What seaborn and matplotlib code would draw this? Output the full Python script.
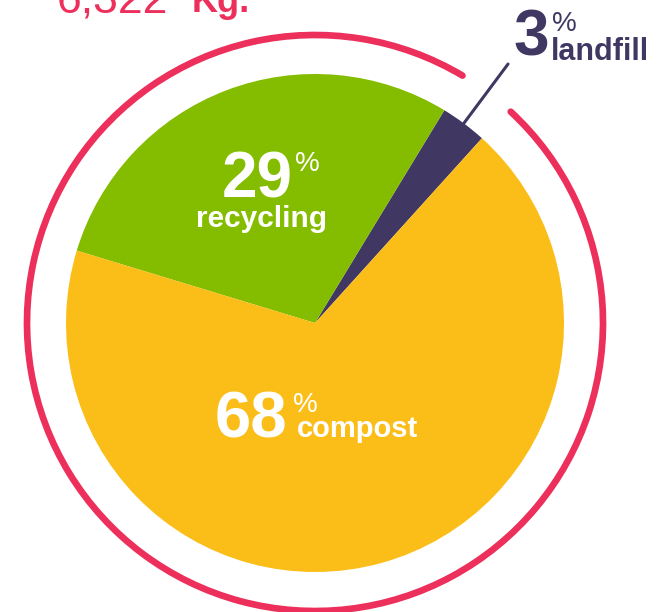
import numpy as np
import matplotlib
matplotlib.use("Agg")
import matplotlib.pyplot as plt
import seaborn as sns
from matplotlib.patches import Arc

# waste split (percent), drawn counter-clockwise from the landfill sliver
categories = ["landfill", "recycling", "compost"]
shares = [3, 29, 68]
share_labels = ["3", "29", "68"]
total_label = "6,322"
unit_label = "Kg."

colors = ["#403862", "#84bc00", "#fbbd18"]
pink = "#ec2f5b"

sns.set_theme(style="white")
plt.rcParams["font.family"] = ["Liberation Sans", "DejaVu Sans"]

W, H = 669, 612
fig = plt.figure(figsize=(W / 100, H / 100), dpi=100)
ax = fig.add_axes([0, 0, 1, 1])

cx, cy, r = 315, H - 323, 249
start = 47.9
ax.pie(shares, colors=colors, startangle=start, radius=r, center=(cx, cy),
       frame=True, wedgeprops=dict(linewidth=0))

# outer ring, open where the landfill leader passes
ring = Arc((cx, cy), 2 * 288, 2 * 288, theta1=59.2, theta2=407.2,
           lw=4.8, color=pink, capstyle="round")
ax.add_patch(ring)

# leader line for the landfill slice
mid = np.deg2rad(start + shares[0] / sum(shares) * 360 / 2)
ax.plot([cx + 246 * np.cos(mid), cx + 323 * np.cos(mid)],
        [cy + 246 * np.sin(mid), cy + 323 * np.sin(mid)],
        color=colors[0], lw=2.2, solid_capstyle="round")

def label(x, y, s, size, color, weight="bold"):
    ax.text(x, H - y, s, fontsize=size, color=color, fontweight=weight,
            ha="left", va="baseline")

# recycling
label(222, 198, share_labels[1], 46, "white")
label(295, 171, "%", 20, "white", weight="normal")
label(196, 227, categories[1], 21.5, "white")

# compost
label(215, 438, share_labels[2], 47, "white")
label(293, 412, "%", 20, "white", weight="normal")
label(297, 437, categories[2], 21, "white")

# landfill
label(513, 55, share_labels[0], 46, colors[0])
label(552, 31, "%", 20, colors[0], weight="normal")
label(551, 60, categories[0], 22, colors[0])

# total (cut off at the top edge)
label(57, 12, total_label, 32, pink, weight="normal")
label(192, 12, unit_label, 26, pink)

ax.set_xlim(0, W)
ax.set_ylim(0, H)
ax.set_aspect("equal")
ax.axis("off")

fig.savefig("out.png", dpi=100)
